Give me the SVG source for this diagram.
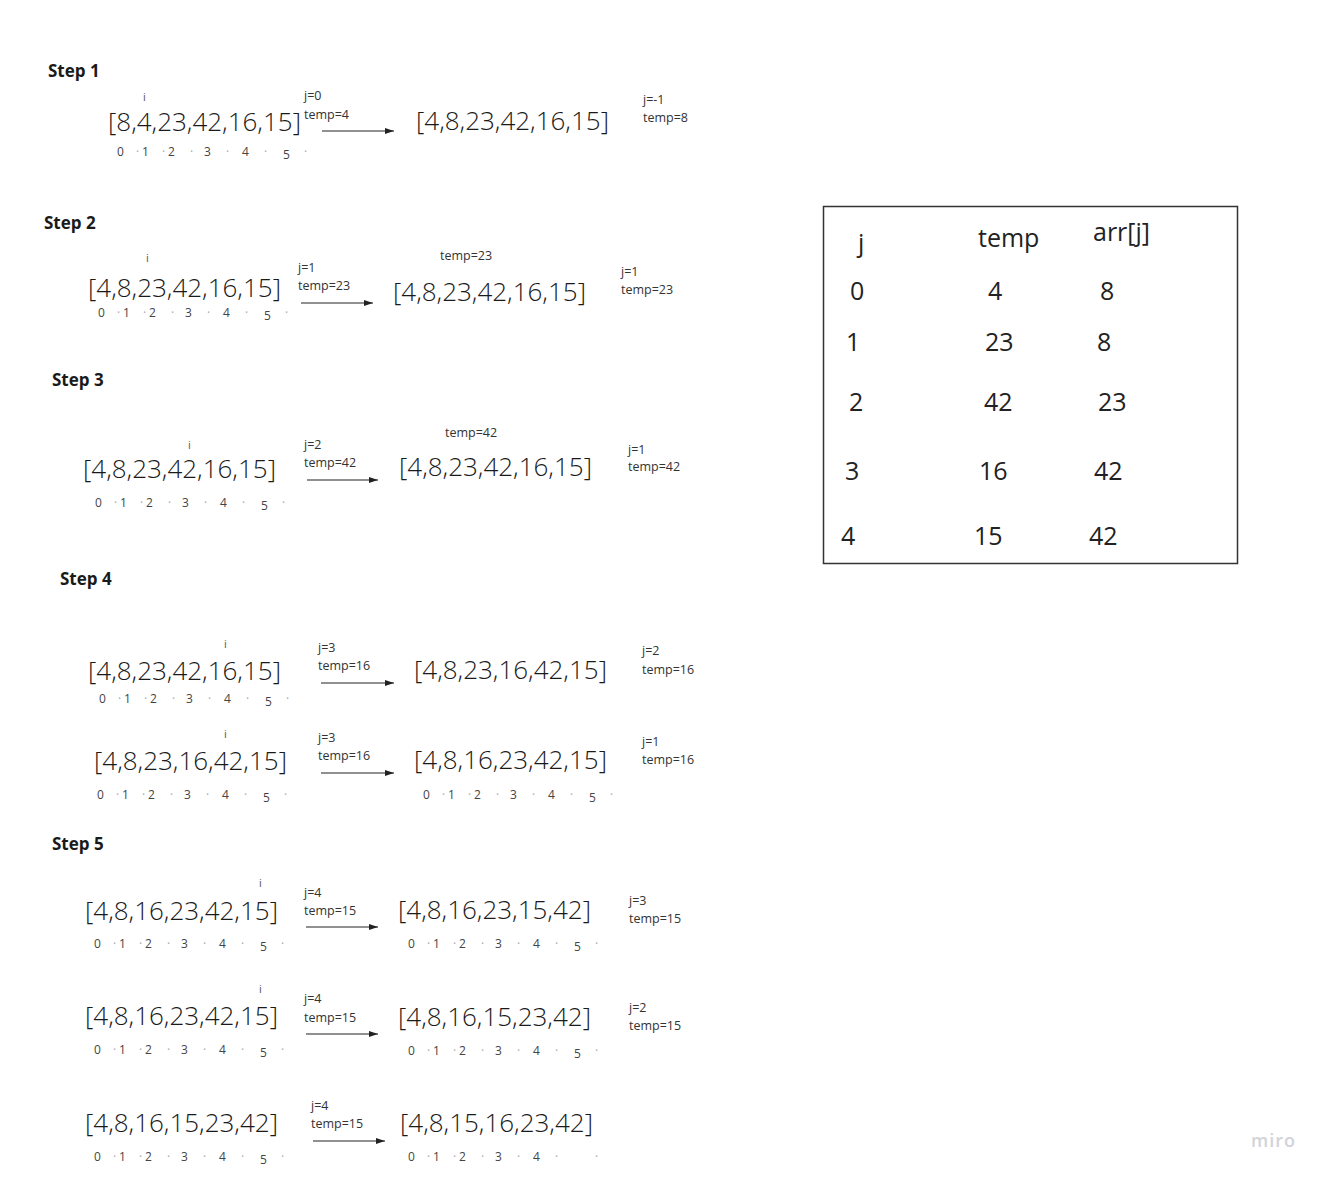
<svg xmlns="http://www.w3.org/2000/svg" xmlns:xlink="http://www.w3.org/1999/xlink" width="1325" height="1178" viewBox="0 0 1325 1178">
<style>
text{font-family:"Open Sans","Liberation Sans",sans-serif;fill:#1a1a1a}
.step{font-size:17px;font-weight:700}
.arr{font-size:26px;font-weight:300}
.sm{font-size:12.5px;font-weight:400;fill:#333}
.ii{font-size:11px;fill:#555}
.idx{font-size:12px;fill:#444}
.dot{font-size:12px;fill:#aaa}
.tbl{font-size:25px;font-weight:400;fill:#222}
.conn{stroke:#222;stroke-width:1.2;fill:none}
.logo{font-size:18px;font-weight:600;fill:#d2d2da;letter-spacing:1px}
</style>
<defs>
<marker id="ah" markerUnits="userSpaceOnUse" markerWidth="10" markerHeight="8" refX="9" refY="3" orient="auto">
<path d="M0,0 L9,3 L0,6 z" fill="#222"/>
</marker>
<g id="idx">
<text class="idx" x="0" y="0">0</text>
<text class="dot" x="19" y="0">·</text>
<text class="idx" x="25" y="0">1</text>
<text class="dot" x="45" y="0">·</text>
<text class="idx" x="51" y="0">2</text>
<text class="dot" x="73" y="0">·</text>
<text class="idx" x="87" y="0">3</text>
<text class="dot" x="109" y="0">·</text>
<text class="idx" x="125" y="0">4</text>
<text class="dot" x="147" y="0">·</text>
<text class="idx" x="166" y="3">5</text>
<text class="dot" x="187" y="0">·</text>
</g>
</defs>
<rect width="1325" height="1178" fill="#ffffff"/>

<g id="connectors">
<line class="conn" x1="322" y1="131" x2="394" y2="131" marker-end="url(#ah)"/>
<line class="conn" x1="301" y1="303" x2="373" y2="303" marker-end="url(#ah)"/>
<line class="conn" x1="307" y1="480" x2="378" y2="480" marker-end="url(#ah)"/>
<line class="conn" x1="321" y1="683" x2="394" y2="683" marker-end="url(#ah)"/>
<line class="conn" x1="321" y1="773" x2="394" y2="773" marker-end="url(#ah)"/>
<line class="conn" x1="306" y1="927" x2="378" y2="927" marker-end="url(#ah)"/>
<line class="conn" x1="306" y1="1034" x2="378" y2="1034" marker-end="url(#ah)"/>
<line class="conn" x1="313" y1="1141" x2="385" y2="1141" marker-end="url(#ah)"/>
</g>

<g id="step1">
<text class="step" x="48" y="77">Step 1</text>
<text class="ii" x="143" y="101">i</text>
<text class="arr" x="108" y="131">[8,4,23,42,16,15]</text>
<text class="sm" x="304" y="100">j=0</text>
<text class="sm" x="304" y="119">temp=4</text>
<text class="arr" x="416" y="130">[4,8,23,42,16,15]</text>
<text class="sm" x="643" y="104">j=-1</text>
<text class="sm" x="643" y="122">temp=8</text>
<use xlink:href="#idx" x="117" y="156"/>
</g>

<g id="step2">
<text class="step" x="44" y="229">Step 2</text>
<text class="ii" x="146" y="262">i</text>
<text class="arr" x="88" y="297">[4,8,23,42,16,15]</text>
<text class="sm" x="298" y="272">j=1</text>
<text class="sm" x="298" y="290">temp=23</text>
<text class="sm" x="440" y="260">temp=23</text>
<text class="arr" x="393" y="301">[4,8,23,42,16,15]</text>
<text class="sm" x="621" y="276">j=1</text>
<text class="sm" x="621" y="294">temp=23</text>
<use xlink:href="#idx" x="98" y="317"/>
</g>

<g id="step3">
<text class="step" x="52" y="386">Step 3</text>
<text class="ii" x="188" y="449">i</text>
<text class="arr" x="83" y="478">[4,8,23,42,16,15]</text>
<text class="sm" x="304" y="449">j=2</text>
<text class="sm" x="304" y="467">temp=42</text>
<text class="sm" x="445" y="437">temp=42</text>
<text class="arr" x="399" y="476">[4,8,23,42,16,15]</text>
<text class="sm" x="628" y="454">j=1</text>
<text class="sm" x="628" y="471">temp=42</text>
<use xlink:href="#idx" x="95" y="507"/>
</g>

<g id="step4">
<text class="step" x="60" y="585">Step 4</text>
<text class="ii" x="224" y="648">i</text>
<text class="arr" x="88" y="680">[4,8,23,42,16,15]</text>
<text class="sm" x="318" y="652">j=3</text>
<text class="sm" x="318" y="670">temp=16</text>
<text class="arr" x="414" y="679">[4,8,23,16,42,15]</text>
<text class="sm" x="642" y="655">j=2</text>
<text class="sm" x="642" y="674">temp=16</text>
<use xlink:href="#idx" x="99" y="703"/>

<text class="ii" x="224" y="738">i</text>
<text class="arr" x="94" y="770">[4,8,23,16,42,15]</text>
<text class="sm" x="318" y="742">j=3</text>
<text class="sm" x="318" y="760">temp=16</text>
<text class="arr" x="414" y="769">[4,8,16,23,42,15]</text>
<text class="sm" x="642" y="746">j=1</text>
<text class="sm" x="642" y="764">temp=16</text>
<use xlink:href="#idx" x="97" y="799"/>
<use xlink:href="#idx" x="423" y="799"/>
</g>

<g id="step5">
<text class="step" x="52" y="850">Step 5</text>
<text class="ii" x="259" y="887">i</text>
<text class="arr" x="85" y="920">[4,8,16,23,42,15]</text>
<text class="sm" x="304" y="897">j=4</text>
<text class="sm" x="304" y="915">temp=15</text>
<text class="arr" x="398" y="919">[4,8,16,23,15,42]</text>
<text class="sm" x="629" y="905">j=3</text>
<text class="sm" x="629" y="923">temp=15</text>
<use xlink:href="#idx" x="94" y="948"/>
<use xlink:href="#idx" x="408" y="948"/>

<text class="ii" x="259" y="993">i</text>
<text class="arr" x="85" y="1025">[4,8,16,23,42,15]</text>
<text class="sm" x="304" y="1003">j=4</text>
<text class="sm" x="304" y="1022">temp=15</text>
<text class="arr" x="398" y="1026">[4,8,16,15,23,42]</text>
<text class="sm" x="629" y="1012">j=2</text>
<text class="sm" x="629" y="1030">temp=15</text>
<use xlink:href="#idx" x="94" y="1054"/>
<use xlink:href="#idx" x="408" y="1055"/>

<text class="arr" x="85" y="1132">[4,8,16,15,23,42]</text>
<text class="sm" x="311" y="1110">j=4</text>
<text class="sm" x="311" y="1128">temp=15</text>
<text class="arr" x="400" y="1132">[4,8,15,16,23,42]</text>
<use xlink:href="#idx" x="94" y="1161"/>
<g transform="translate(408,1161)">
<text class="idx" x="0" y="0">0</text>
<text class="dot" x="19" y="0">·</text>
<text class="idx" x="25" y="0">1</text>
<text class="dot" x="45" y="0">·</text>
<text class="idx" x="51" y="0">2</text>
<text class="dot" x="73" y="0">·</text>
<text class="idx" x="87" y="0">3</text>
<text class="dot" x="109" y="0">·</text>
<text class="idx" x="125" y="0">4</text>
<text class="dot" x="147" y="0">·</text>
<text class="dot" x="187" y="0">·</text>
</g>
</g>

<g id="table">
<rect x="823.5" y="206.5" width="414" height="357" fill="none" stroke="#333" stroke-width="1.5"/>
<text class="tbl" x="858" y="252">j</text>
<text class="tbl" x="978" y="247">temp</text>
<text class="tbl" x="1093" y="241">arr[j]</text>
<text class="tbl" x="850" y="300">0</text>
<text class="tbl" x="988" y="300">4</text>
<text class="tbl" x="1100" y="300">8</text>
<text class="tbl" x="846" y="351">1</text>
<text class="tbl" x="985" y="351">23</text>
<text class="tbl" x="1097" y="351">8</text>
<text class="tbl" x="849" y="411">2</text>
<text class="tbl" x="984" y="411">42</text>
<text class="tbl" x="1098" y="411">23</text>
<text class="tbl" x="845" y="480">3</text>
<text class="tbl" x="979" y="480">16</text>
<text class="tbl" x="1094" y="480">42</text>
<text class="tbl" x="841" y="545">4</text>
<text class="tbl" x="974" y="545">15</text>
<text class="tbl" x="1089" y="545">42</text>
</g>

<text class="logo" x="1251" y="1147">miro</text>
</svg>
